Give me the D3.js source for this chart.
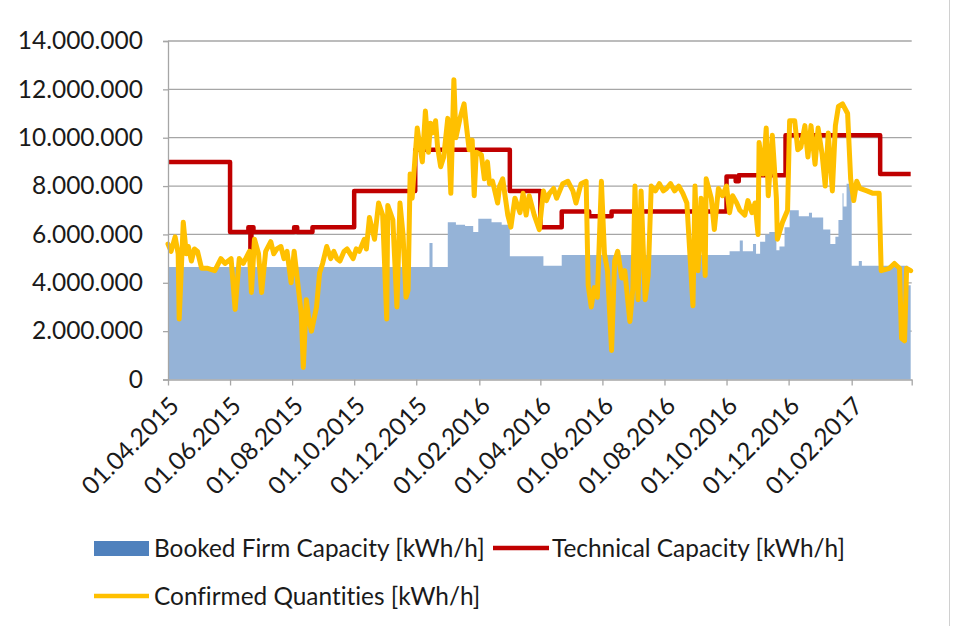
<!DOCTYPE html>
<html lang="de">
<head>
<meta charset="UTF-8">
<title>Capacity chart</title>
<script src="https://d3js.org/d3.v7.min.js"></script>
<style>
body { margin: 0; background: #fff; }
text { font-family: 'Lato', 'Open Sans', sans-serif; fill: #1a1a1a; font-variant-ligatures: none; }
</style>
</head>
<body>
<svg id="chart" width="955" height="626"></svg>
<script>
// values in million kWh/h
const technical = [
  ['01.04.2015', 9.0], ['01.06.2015', 6.1], ['19.06.2015', 6.3], ['21.06.2015', 5.4],
  ['22.06.2015', 6.3], ['24.06.2015', 6.1], ['03.08.2015', 6.3], ['06.08.2015', 6.1],
  ['21.08.2015', 6.3], ['01.10.2015', 7.8], ['30.11.2015', 9.5], ['02.03.2016', 7.8],
  ['01.04.2016', 6.3], ['22.04.2016', 6.95], ['19.05.2016', 6.75], ['10.06.2016', 6.95],
  ['01.10.2016', 8.4], ['10.10.2016', 8.2], ['13.10.2016', 8.45], ['28.11.2016', 10.1],
  ['01.03.2017', 8.5], ['31.03.2017', 8.5]
];

const booked = [
  ['01.04.2015', 4.65], ['14.12.2015', 5.65], ['17.12.2015', 4.65], ['01.01.2016', 6.5],
  ['09.01.2016', 6.4], ['18.01.2016', 6.35], ['26.01.2016', 6.1], ['31.01.2016', 6.65],
  ['13.02.2016', 6.5], ['23.02.2016', 6.4], ['02.03.2016', 5.1], ['04.04.2016', 4.7],
  ['22.04.2016', 5.15], ['04.10.2016', 5.3], ['14.10.2016', 5.75], ['17.10.2016', 5.3],
  ['27.10.2016', 5.6], ['30.10.2016', 5.2], ['03.11.2016', 5.7], ['08.11.2016', 6.0],
  ['12.11.2016', 6.1], ['19.11.2016', 5.35], ['22.11.2016', 5.5], ['27.11.2016', 6.3],
  ['02.12.2016', 7.0], ['11.12.2016', 6.75], ['21.12.2016', 6.9], ['24.12.2016', 6.7],
  ['04.01.2017', 6.2], ['11.01.2017', 5.6], ['16.01.2017', 5.9], ['19.01.2017', 6.6],
  ['23.01.2017', 7.7], ['24.01.2017', 7.15], ['27.01.2017', 8.1], ['01.02.2017', 4.7],
  ['08.02.2017', 4.9], ['11.02.2017', 4.7], ['28.03.2017', 3.9], ['31.03.2017', 3.9]
];

const confirmed = [
  ['01.04.2015', 5.6], ['04.04.2015', 5.3], ['08.04.2015', 5.9], ['11.04.2015', 5.2], ['12.04.2015', 2.5],
  ['16.04.2015', 6.5], ['19.04.2015', 5.2], ['21.04.2015', 5.5], ['24.04.2015', 4.9], ['27.04.2015', 5.4],
  ['30.04.2015', 5.3], ['04.05.2015', 4.6], ['10.05.2015', 4.6], ['17.05.2015', 4.5], ['23.05.2015', 5.0],
  ['27.05.2015', 4.8], ['02.06.2015', 5.0], ['06.06.2015', 2.9], ['10.06.2015', 5.0], ['14.06.2015', 4.8],
  ['20.06.2015', 5.3], ['22.06.2015', 3.6], ['25.06.2015', 5.8], ['29.06.2015', 5.2], ['02.07.2015', 3.6],
  ['06.07.2015', 5.3], ['11.07.2015', 5.7], ['14.07.2015', 5.2], ['17.07.2015', 5.4], ['21.07.2015', 5.5],
  ['24.07.2015', 5.0], ['27.07.2015', 5.3], ['31.07.2015', 4.0], ['03.08.2015', 5.3], ['06.08.2015', 4.2],
  ['10.08.2015', 2.7], ['12.08.2015', 0.5], ['15.08.2015', 3.3], ['17.08.2015', 2.6], ['20.08.2015', 2.0],
  ['25.08.2015', 3.0], ['28.08.2015', 4.4], ['31.08.2015', 4.8], ['04.09.2015', 5.5], ['08.09.2015', 5.0],
  ['11.09.2015', 5.3], ['14.09.2015', 5.0], ['17.09.2015', 4.9], ['21.09.2015', 5.3], ['24.09.2015', 5.4],
  ['30.09.2015', 5.0], ['03.10.2015', 5.4], ['06.10.2015', 5.3], ['11.10.2015', 5.8], ['13.10.2015', 5.4],
  ['16.10.2015', 6.7], ['21.10.2015', 5.8], ['25.10.2015', 7.3], ['29.10.2015', 6.8], ['02.11.2015', 2.5],
  ['03.11.2015', 7.2], ['08.11.2015', 6.6], ['12.11.2015', 3.0], ['15.11.2015', 7.3], ['18.11.2015', 6.0],
  ['21.11.2015', 3.4], ['23.11.2015', 3.7], ['25.11.2015', 8.5], ['27.11.2015', 7.5], ['29.11.2015', 8.7],
  ['02.12.2015', 10.4], ['04.12.2015', 9.8], ['07.12.2015', 9.0], ['10.12.2015', 11.1], ['13.12.2015', 9.4],
  ['15.12.2015', 10.6], ['17.12.2015', 10.2], ['20.12.2015', 10.7], ['22.12.2015', 9.6], ['25.12.2015', 8.8],
  ['28.12.2015', 9.2], ['01.01.2016', 10.8], ['04.01.2016', 7.7], ['07.01.2016', 12.4], ['09.01.2016', 10.0],
  ['13.01.2016', 10.8], ['17.01.2016', 11.4], ['19.01.2016', 10.6], ['22.01.2016', 9.5], ['25.01.2016', 9.9],
  ['27.01.2016', 7.6], ['29.01.2016', 9.4], ['03.02.2016', 9.3], ['06.02.2016', 8.3], ['09.02.2016', 9.0],
  ['11.02.2016', 8.1], ['14.02.2016', 8.2], ['19.02.2016', 7.3], ['21.02.2016', 8.0], ['24.02.2016', 8.3],
  ['27.02.2016', 7.4], ['29.02.2016', 6.8], ['03.03.2016', 6.3], ['07.03.2016', 7.5], ['12.03.2016', 6.9],
  ['15.03.2016', 7.7], ['18.03.2016', 6.8], ['21.03.2016', 7.6], ['26.03.2016', 6.8], ['31.03.2016', 6.2],
  ['04.04.2016', 7.8], ['07.04.2016', 7.4], ['10.04.2016', 7.7], ['14.04.2016', 7.9], ['17.04.2016', 7.5],
  ['23.04.2016', 8.1], ['28.04.2016', 8.2], ['03.05.2016', 7.8], ['06.05.2016', 7.3], ['11.05.2016', 8.1],
  ['16.05.2016', 8.2], ['18.05.2016', 3.9], ['21.05.2016', 3.0], ['24.05.2016', 3.8], ['27.05.2016', 3.4],
  ['31.05.2016', 8.2], ['03.06.2016', 5.2], ['06.06.2016', 4.5], ['10.06.2016', 1.2], ['13.06.2016', 4.9],
  ['16.06.2016', 5.3], ['20.06.2016', 4.2], ['23.06.2016', 4.5], ['28.06.2016', 2.4], ['01.07.2016', 3.8],
  ['03.07.2016', 8.0], ['06.07.2016', 3.3], ['09.07.2016', 7.8], ['13.07.2016', 3.3], ['16.07.2016', 4.3],
  ['19.07.2016', 8.0], ['23.07.2016', 7.8], ['27.07.2016', 8.1], ['31.07.2016', 7.8], ['03.08.2016', 7.9],
  ['07.08.2016', 8.1], ['11.08.2016', 7.8], ['15.08.2016', 8.0], ['19.08.2016', 7.7], ['23.08.2016', 7.3],
  ['29.08.2016', 3.05], ['31.08.2016', 8.0], ['03.09.2016', 4.5], ['06.09.2016', 7.5], ['10.09.2016', 4.3],
  ['11.09.2016', 8.3], ['16.09.2016', 7.5], ['19.09.2016', 6.2], ['23.09.2016', 7.9], ['27.09.2016', 7.6],
  ['01.10.2016', 8.0], ['04.10.2016', 6.9], ['07.10.2016', 7.6], ['11.10.2016', 7.3], ['14.10.2016', 7.0],
  ['19.10.2016', 6.8], ['22.10.2016', 7.4], ['26.10.2016', 6.9], ['29.10.2016', 7.3], ['01.11.2016', 6.0],
  ['02.11.2016', 9.8], ['06.11.2016', 8.5], ['09.11.2016', 10.4], ['11.11.2016', 7.6], ['15.11.2016', 10.1],
  ['19.11.2016', 7.5], ['20.11.2016', 5.8], ['25.11.2016', 6.5], ['30.11.2016', 7.0], ['02.12.2016', 10.7],
  ['07.12.2016', 10.7], ['10.12.2016', 9.5], ['13.12.2016', 9.6], ['17.12.2016', 10.5], ['20.12.2016', 9.2],
  ['23.12.2016', 10.5], ['27.12.2016', 8.9], ['30.12.2016', 10.4], ['03.01.2017', 9.3], ['06.01.2017', 8.0],
  ['09.01.2017', 10.2], ['13.01.2017', 7.8], ['16.01.2017', 10.5], ['19.01.2017', 11.3], ['23.01.2017', 11.4],
  ['28.01.2017', 11.0], ['31.01.2017', 8.3], ['03.02.2017', 7.4], ['06.02.2017', 8.2], ['09.02.2017', 7.9],
  ['16.02.2017', 7.8], ['22.02.2017', 7.7], ['28.02.2017', 7.7], ['02.03.2017', 4.5], ['10.03.2017', 4.6],
  ['15.03.2017', 4.8], ['20.03.2017', 4.6], ['22.03.2017', 1.7], ['25.03.2017', 1.6], ['27.03.2017', 4.6],
  ['31.03.2017', 4.5]
];

const xTickLabels = ['01.04.2015', '01.06.2015', '01.08.2015', '01.10.2015', '01.12.2015',
  '01.02.2016', '01.04.2016', '01.06.2016', '01.08.2016', '01.10.2016', '01.12.2016', '01.02.2017'];
const xEnd = '01.04.2017';
const yTicks = [0, 2e6, 4e6, 6e6, 8e6, 10e6, 12e6, 14e6];

const seriesNames = ['Booked Firm Capacity [kWh/h]', 'Technical Capacity [kWh/h]', 'Confirmed Quantities [kWh/h]'];

const parse = d3.timeParse('%d.%m.%Y');
const fmtDate = d3.timeFormat('%d.%m.%Y');
const de = d3.formatLocale({decimal: ',', thousands: '.', grouping: [3], currency: ['', ' €']});
const fmtNum = de.format(',.0f');

const svg = d3.select('#chart');
const plot = {left: 168, right: 911.7, top: 41, bottom: 379.5};

const x = d3.scaleTime()
  .domain([parse(xTickLabels[0]), parse(xEnd)])
  .range([plot.left, plot.right]);
const y = d3.scaleLinear().domain([0, 14e6]).range([plot.bottom, plot.top]);

const toPts = arr => arr.map(d => ({date: parse(d[0]), v: d[1] * 1e6}));

// gridlines
svg.append('g')
  .selectAll('line')
  .data(yTicks.slice(1))
  .join('line')
  .attr('x1', plot.left).attr('x2', plot.right)
  .attr('y1', d => y(d)).attr('y2', d => y(d))
  .attr('stroke', '#a6a6a6').attr('stroke-width', 1.3);

// booked capacity area
const area = d3.area()
  .curve(d3.curveStepAfter)
  .x(d => x(d.date)).y0(y(0)).y1(d => y(d.v));
svg.append('path')
  .datum(toPts(booked))
  .attr('d', area)
  .attr('fill', '#95b3d7');

const line = d3.line().x(d => x(d.date)).y(d => y(d.v));

svg.append('path')
  .datum(toPts(technical))
  .attr('d', line.curve(d3.curveStepAfter))
  .attr('fill', 'none').attr('stroke', '#c00000')
  .attr('stroke-width', 4.5).attr('stroke-linejoin', 'round');

svg.append('path')
  .datum(toPts(confirmed))
  .attr('d', line.curve(d3.curveLinear))
  .attr('fill', 'none').attr('stroke', '#ffc000')
  .attr('stroke-width', 5).attr('stroke-linejoin', 'round').attr('stroke-linecap', 'round');

// axes
const yAxis = svg.append('g')
  .attr('transform', `translate(${plot.left},0)`)
  .call(d3.axisLeft(y).tickValues(yTicks).tickFormat(fmtNum).tickSize(5).tickPadding(20));
yAxis.select('.domain').attr('stroke', '#a6a6a6').attr('stroke-width', 1.3);
yAxis.selectAll('.tick line').attr('stroke', '#a6a6a6').attr('stroke-width', 1.3);
yAxis.selectAll('.tick text').attr('font-size', 24.5).attr('fill', '#1a1a1a');

const xVals = xTickLabels.map(parse).concat([parse(xEnd)]);
const xAxis = svg.append('g')
  .attr('transform', `translate(0,${plot.bottom})`)
  .call(d3.axisBottom(x).tickValues(xVals)
    .tickFormat(d => +d === +parse(xEnd) ? '' : fmtDate(d)).tickSize(6).tickSizeOuter(0));
xAxis.select('.domain').attr('stroke', '#a6a6a6').attr('stroke-width', 1.3);
xAxis.selectAll('.tick line').attr('stroke', '#a6a6a6').attr('stroke-width', 1.3);
xAxis.selectAll('.tick text')
  .attr('font-size', 24.5).attr('fill', '#1a1a1a')
  .attr('text-anchor', 'end')
  .attr('dy', '0.35em').attr('y', 0)
  .attr('transform', 'translate(6,22) rotate(-45)');

// legend
const lg = svg.append('g').attr('font-size', 24.4);
lg.append('rect').attr('x', 94).attr('y', 541).attr('width', 55).attr('height', 15).attr('fill', '#4f81bd');
lg.append('text').attr('x', 154).attr('y', 548).attr('dy', '0.35em').text(seriesNames[0]);
lg.append('line').attr('x1', 493).attr('x2', 549).attr('y1', 548).attr('y2', 548)
  .attr('stroke', '#c00000').attr('stroke-width', 4.5);
lg.append('text').attr('x', 552).attr('y', 548).attr('dy', '0.35em').text(seriesNames[1]);
lg.append('line').attr('x1', 94).attr('x2', 149).attr('y1', 596).attr('y2', 596)
  .attr('stroke', '#ffc000').attr('stroke-width', 4.5);
lg.append('text').attr('x', 154).attr('y', 596).attr('dy', '0.35em').text(seriesNames[2]);

// chart border on the right
svg.append('line').attr('x1', 949.5).attr('x2', 949.5).attr('y1', 0).attr('y2', 626).attr('stroke', '#d0d0d0');
</script>
</body>
</html>
